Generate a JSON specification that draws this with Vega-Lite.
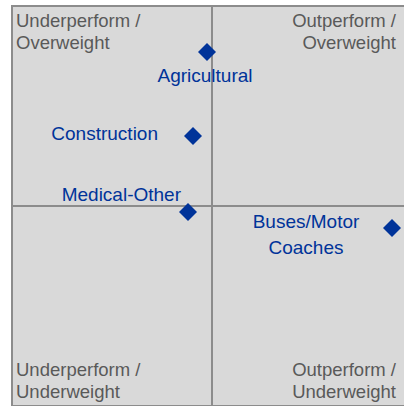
{
  "$schema": "https://vega.github.io/schema/vega-lite/v6.json",
  "width": 400,
  "height": 400,
  "padding": {"left": 12, "top": 6, "right": 0, "bottom": 0},
  "autosize": {"type": "none"},
  "background": "white",
  "config": {
    "view": {"fill": "#d9d9d9", "stroke": "#8c8c8c", "strokeWidth": 2},
    "font": "Liberation Sans",
    "text": {"font": "Liberation Sans"}
  },
  "data": {"name": "pts"},
  "datasets": {
    "pts": [
      {"sector": "Agricultural", "perf": -0.025, "weight": 0.77},
      {"sector": "Construction", "perf": -0.095, "weight": 0.35},
      {"sector": "Medical-Other", "perf": -0.12, "weight": -0.03},
      {"sector": "Buses/Motor Coaches", "label": "Buses/Motor\nCoaches", "perf": 0.9, "weight": -0.11}
    ],
    "corners": [
      {"text": "Underperform /\nOverweight", "qx": -1, "qy": 1, "pos": "tl"},
      {"text": "Outperform /\nOverweight", "qx": 1, "qy": 1, "pos": "tr"},
      {"text": "Underperform /\nUnderweight", "qx": -1, "qy": -1, "pos": "bl"},
      {"text": "Outperform /\nUnderweight", "qx": 1, "qy": -1, "pos": "br"}
    ],
    "axes": [
      {"center": 0}
    ]
  },
  "layer": [
    {
      "data": {"name": "axes"},
      "mark": {"type": "rule", "color": "#8c8c8c", "strokeWidth": 2},
      "encoding": {"x": {"field": "center", "type": "quantitative", "scale": {"domain": [-1, 1]}, "axis": null}}
    },
    {
      "data": {"name": "axes"},
      "mark": {"type": "rule", "color": "#8c8c8c", "strokeWidth": 2},
      "encoding": {"y": {"field": "center", "type": "quantitative", "scale": {"domain": [-1, 1]}, "axis": null}}
    },
    {
      "data": {"name": "corners"},
      "transform": [{"filter": "datum.pos == 'tl'"}],
      "mark": {"type": "text", "font": "Liberation Sans", "align": "left", "baseline": "top", "dx": 4, "dy": 6, "fontSize": 18.5, "lineHeight": 22, "color": "#595959", "lineBreak": "\n"},
      "encoding": {
        "x": {"field": "qx", "type": "quantitative", "scale": {"domain": [-1, 1]}, "axis": null},
        "y": {"field": "qy", "type": "quantitative", "scale": {"domain": [-1, 1]}, "axis": null},
        "text": {"field": "text"}
      }
    },
    {
      "data": {"name": "corners"},
      "transform": [{"filter": "datum.pos == 'tr'"}],
      "mark": {"type": "text", "font": "Liberation Sans", "align": "right", "baseline": "top", "dx": -16, "dy": 6, "fontSize": 18.5, "lineHeight": 22, "color": "#595959", "lineBreak": "\n"},
      "encoding": {
        "x": {"field": "qx", "type": "quantitative", "scale": {"domain": [-1, 1]}, "axis": null},
        "y": {"field": "qy", "type": "quantitative", "scale": {"domain": [-1, 1]}, "axis": null},
        "text": {"field": "text"}
      }
    },
    {
      "data": {"name": "corners"},
      "transform": [{"filter": "datum.pos == 'bl'"}],
      "mark": {"type": "text", "font": "Liberation Sans", "align": "left", "baseline": "top", "dx": 4, "dy": -45, "fontSize": 18.5, "lineHeight": 22, "color": "#595959", "lineBreak": "\n"},
      "encoding": {
        "x": {"field": "qx", "type": "quantitative", "scale": {"domain": [-1, 1]}, "axis": null},
        "y": {"field": "qy", "type": "quantitative", "scale": {"domain": [-1, 1]}, "axis": null},
        "text": {"field": "text"}
      }
    },
    {
      "data": {"name": "corners"},
      "transform": [{"filter": "datum.pos == 'br'"}],
      "mark": {"type": "text", "font": "Liberation Sans", "align": "right", "baseline": "top", "dx": -16, "dy": -45, "fontSize": 18.5, "lineHeight": 22, "color": "#595959", "lineBreak": "\n"},
      "encoding": {
        "x": {"field": "qx", "type": "quantitative", "scale": {"domain": [-1, 1]}, "axis": null},
        "y": {"field": "qy", "type": "quantitative", "scale": {"domain": [-1, 1]}, "axis": null},
        "text": {"field": "text"}
      }
    },
    {
      "mark": {"type": "point", "shape": "diamond", "filled": true, "size": 324, "color": "#003399", "opacity": 1},
      "encoding": {
        "x": {"field": "perf", "type": "quantitative", "scale": {"domain": [-1, 1]}, "axis": null},
        "y": {"field": "weight", "type": "quantitative", "scale": {"domain": [-1, 1]}, "axis": null}
      }
    },
    {
      "transform": [{"filter": "datum.sector == 'Agricultural'"}],
      "mark": {"type": "text", "font": "Liberation Sans", "align": "center", "baseline": "middle", "dx": -2, "dy": 24, "fontSize": 19, "color": "#003399"},
      "encoding": {
        "x": {"field": "perf", "type": "quantitative", "scale": {"domain": [-1, 1]}, "axis": null},
        "y": {"field": "weight", "type": "quantitative", "scale": {"domain": [-1, 1]}, "axis": null},
        "text": {"field": "sector"}
      }
    },
    {
      "transform": [{"filter": "datum.sector == 'Construction'"}],
      "mark": {"type": "text", "font": "Liberation Sans", "align": "right", "baseline": "middle", "dx": -35, "dy": -2, "fontSize": 19, "color": "#003399"},
      "encoding": {
        "x": {"field": "perf", "type": "quantitative", "scale": {"domain": [-1, 1]}, "axis": null},
        "y": {"field": "weight", "type": "quantitative", "scale": {"domain": [-1, 1]}, "axis": null},
        "text": {"field": "sector"}
      }
    },
    {
      "transform": [{"filter": "datum.sector == 'Medical-Other'"}],
      "mark": {"type": "text", "font": "Liberation Sans", "align": "right", "baseline": "middle", "dx": -7, "dy": -17, "fontSize": 19, "color": "#003399"},
      "encoding": {
        "x": {"field": "perf", "type": "quantitative", "scale": {"domain": [-1, 1]}, "axis": null},
        "y": {"field": "weight", "type": "quantitative", "scale": {"domain": [-1, 1]}, "axis": null},
        "text": {"field": "sector"}
      }
    },
    {
      "transform": [{"filter": "datum.sector == 'Buses/Motor Coaches'"}],
      "mark": {"type": "text", "font": "Liberation Sans", "align": "center", "baseline": "middle", "dx": -86, "dy": -6, "fontSize": 19, "lineHeight": 26, "color": "#003399", "lineBreak": "\n"},
      "encoding": {
        "x": {"field": "perf", "type": "quantitative", "scale": {"domain": [-1, 1]}, "axis": null},
        "y": {"field": "weight", "type": "quantitative", "scale": {"domain": [-1, 1]}, "axis": null},
        "text": {"field": "label"}
      }
    }
  ]
}
